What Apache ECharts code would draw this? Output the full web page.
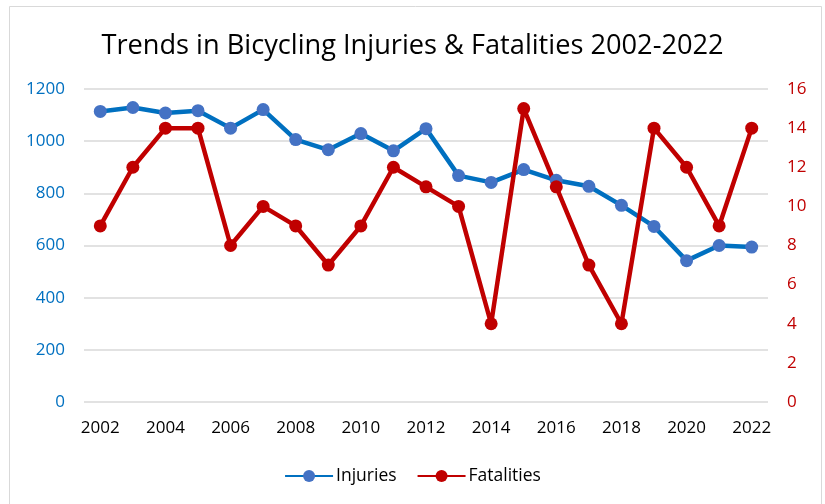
<!DOCTYPE html>
<html>
<head>
<meta charset="utf-8">
<script src="https://cdn.jsdelivr.net/npm/echarts@6/dist/echarts.min.js"></script>
<style>html,body{margin:0;padding:0;background:#fff}#c{width:825px;height:504px}</style>
</head>
<body>
<div id="c"></div>
<script>
const years = ['2002','2003','2004','2005','2006','2007','2008','2009','2010','2011','2012','2013','2014','2015','2016','2017','2018','2019','2020','2021','2022'];
const injuries = [1114,1129,1108,1117,1050,1121,1006,967,1029,963,1048,868,842,891,850,827,754,673,542,600,594];
const fatalities = [9,12,14,14,8,10,9,7,9,12,11,10,4,15,11,7,4,14,12,9,14];
const leftTicks = [0,200,400,600,800,1000,1200];
const rightTicks = [0,2,4,6,8,10,12,14,16];

const FONT = 'Open Sans';
const chart = echarts.init(document.getElementById('c'), null, {renderer:'canvas'});
chart.setOption({
  animation:false,
  backgroundColor:'#fff',
  graphic:[{type:'rect',shape:{x:9.5,y:6.5,width:812,height:510},style:{fill:'none',stroke:'#d9d9d9',lineWidth:1},silent:true}],
  title:{text:'Trends in Bicycling Injuries & Fatalities 2002-2022',left:'center',top:28,
    textStyle:{fontFamily:FONT,fontSize:27.2,fontWeight:'normal',color:'#000'}},
  legend:{bottom:14,left:'center',itemWidth:48,itemHeight:15,itemGap:20,
    textStyle:{fontFamily:FONT,fontSize:17.5,color:'#000',padding:[0,0,0,-2]},
    data:['Injuries','Fatalities']},
  grid:{left:84,right:57,top:89,bottom:102},
  xAxis:{type:'category',data:years,boundaryGap:true,
    axisLine:{show:false},axisTick:{show:false},
    axisLabel:{interval:1,margin:18,fontFamily:FONT,fontSize:17,color:'#000'}},
  yAxis:[
    {type:'value',min:0,max:1200,interval:200,position:'left',
     axisLine:{show:false},axisTick:{show:false},
     splitLine:{lineStyle:{color:'#d9d9d9',width:1.5}},
     axisLabel:{margin:19,fontFamily:FONT,fontSize:17,color:'#0070C0',formatter:v=>String(v)}},
    {type:'value',min:0,max:16,interval:2,position:'right',
     axisLine:{show:false},axisTick:{show:false},splitLine:{show:false},
     axisLabel:{margin:19,fontFamily:FONT,fontSize:17,color:'#C00000',formatter:v=>String(v)}}
  ],
  series:[
    {name:'Injuries',type:'line',yAxisIndex:0,data:injuries,symbol:'circle',symbolSize:13,
     lineStyle:{color:'#0070C0',width:4.5},itemStyle:{color:'#4472C4'},color:'#0070C0'},
    {name:'Fatalities',type:'line',yAxisIndex:1,data:fatalities,symbol:'circle',symbolSize:13,
     lineStyle:{color:'#C00000',width:4.5},itemStyle:{color:'#C00000'},color:'#C00000'}
  ]
});
</script>
</body>
</html>
